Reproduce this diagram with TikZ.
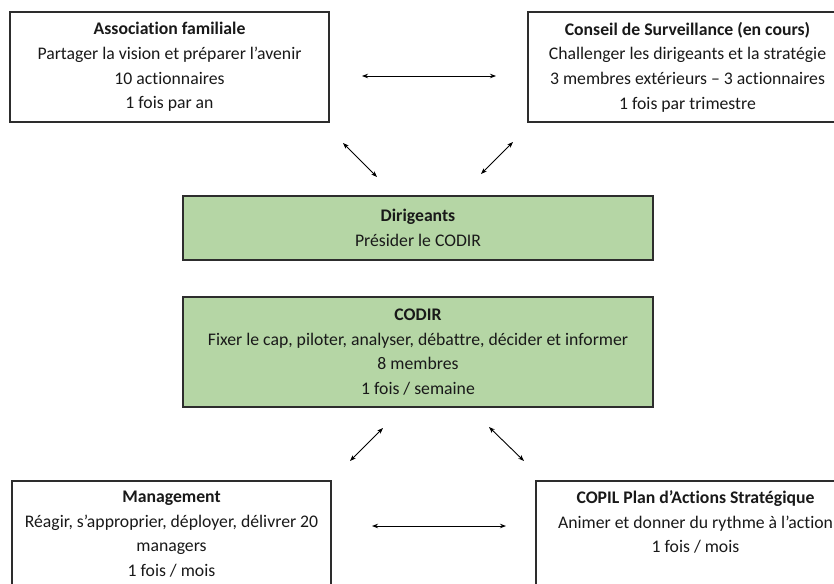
\documentclass[tikz,border=0pt]{standalone}
\usepackage{fontspec}
\setmainfont{Carlito}[Ligatures=NoCommon]
\usetikzlibrary{arrows.meta}
\definecolor{boxgreen}{RGB}{181,214,165}
\definecolor{txt}{RGB}{25,25,25}
\definecolor{edge}{RGB}{45,45,45}
\tikzset{
  box/.style={draw=edge, line width=1.3pt, rectangle, align=center, text=txt,
    font=\fontsize{17.7}{24.6}\selectfont, inner sep=0pt, minimum width=319pt},
  greenbox/.style={box, fill=boxgreen, minimum width=470pt},
  link/.style={line width=0.9pt, draw=black, {Stealth[length=6pt,width=4.5pt]}-{Stealth[length=6pt,width=4.5pt]}}
}
\begin{document}
\begin{tikzpicture}[x=1pt,y=-1pt]
\clip (0,0) rectangle (834,583);
\fill[white] (0,0) rectangle (834,583);
\node[box, minimum height=110pt] (assoc) at (169.5,67)
  {\textbf{Association familiale}\\Partager la vision et préparer l’avenir\\10 actionnaires\\1 fois par an};
\node[box, minimum height=110pt] (conseil) at (687.5,67)
  {\textbf{Conseil de Surveillance (en cours)}\\Challenger les dirigeants et la stratégie\\3 membres extérieurs – 3 actionnaires\\1 fois par trimestre};
\node[greenbox, minimum height=64pt] (dirig) at (418,228)
  {\textbf{Dirigeants}\\Présider le CODIR};
\node[greenbox, minimum height=110pt] (codir) at (418,352)
  {\textbf{CODIR}\\Fixer le cap, piloter, analyser, débattre, décider et informer\\8 membres\\1 fois / semaine};
\node[box, minimum height=106pt] (mgmt) at (171.5,534)
  {\textbf{Management}\\Réagir, s’approprier, déployer, délivrer 20\\managers\\1 fois / mois};
\node[box, minimum height=106pt] (copil) at (695.5,534)
  {\textbf{COPIL Plan d’Actions Stratégique}\\Animer et donner du rythme à l’action\\1 fois / mois\\~};
\coordinate (t1) at (362,76);
\coordinate (t2) at (496,76);
\coordinate (dl1) at (343,143);
\coordinate (dl2) at (377,177);
\coordinate (dr1) at (513,142);
\coordinate (dr2) at (481,174);
\coordinate (bl1) at (383,428);
\coordinate (bl2) at (350,461);
\coordinate (br1) at (489,427);
\coordinate (br2) at (524,461);
\coordinate (b1) at (372,526);
\coordinate (b2) at (506,526);
\draw[link] (t1) -- (t2);
\draw[link] (dl1) -- (dl2);
\draw[link] (dr1) -- (dr2);
\draw[link] (bl1) -- (bl2);
\draw[link] (br1) -- (br2);
\draw[link] (b1) -- (b2);
\end{tikzpicture}
\end{document}
